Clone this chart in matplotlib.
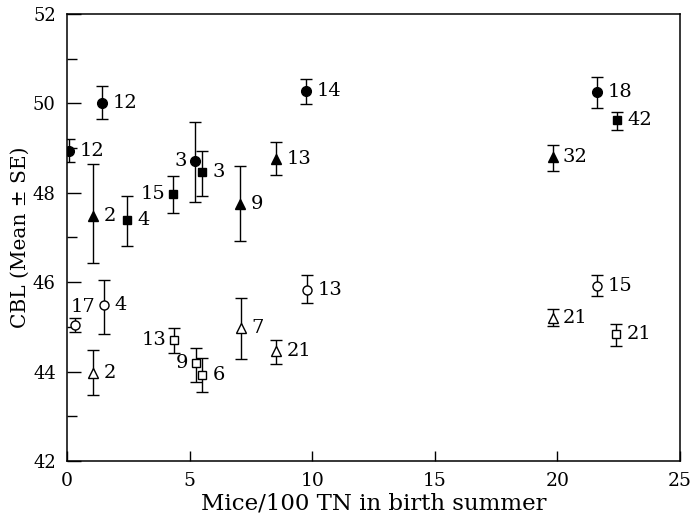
import numpy as np
import matplotlib.pyplot as plt

plt.rcParams['font.family'] = 'DejaVu Serif'

# filled circles
fc_x = [0.1, 1.42, 5.24, 9.74, 21.63]
fc_y = [48.93, 50.02, 48.72, 50.27, 50.25]
fc_lo = [48.68, 49.64, 47.80, 49.98, 49.90]
fc_hi = [49.20, 50.40, 49.58, 50.54, 50.60]
fc_n = ['12', '12', '3', '14', '18']

# filled squares
fs_x = [2.43, 4.34, 5.52, 22.44]
fs_y = [47.40, 47.97, 48.46, 49.62]
fs_lo = [46.82, 47.54, 47.92, 49.40]
fs_hi = [47.92, 48.37, 48.93, 49.80]
fs_n = ['4', '15', '3', '42']

# filled triangles
ft_x = [1.06, 7.06, 8.52, 19.8]
ft_y = [47.47, 47.76, 48.75, 48.79]
ft_lo = [46.42, 46.93, 48.39, 48.48]
ft_hi = [48.64, 48.61, 49.13, 49.08]
ft_n = ['2', '9', '13', '32']

# open circles
oc_x = [0.32, 1.5, 9.78, 21.63]
oc_y = [45.05, 45.50, 45.83, 45.92]
oc_lo = [44.89, 44.85, 45.54, 45.68]
oc_hi = [45.21, 46.04, 46.15, 46.15]
oc_n = ['17', '4', '13', '15']

# open squares
os_x = [4.38, 5.28, 5.52, 22.4]
os_y = [44.71, 44.20, 43.93, 44.85]
os_lo = [44.42, 43.76, 43.55, 44.58]
os_hi = [44.98, 44.53, 44.30, 45.07]
os_n = ['13', '9', '6', '21']

# open triangles
ot_x = [1.06, 7.1, 8.52, 19.8]
ot_y = [43.97, 44.98, 44.47, 45.20]
ot_lo = [43.48, 44.29, 44.17, 45.03]
ot_hi = [44.49, 45.65, 44.71, 45.41]
ot_n = ['2', '7', '21', '21']

# where each n label sits relative to its point (offset in points)
R = (7.5, 0, 'left')
L = (-6, 0, 'right')
label_pos = {
    'fc': [R, R, L, R, R],
    'fs': [R, L, R, R],
    'ft': [R, R, R, R],
    'oc': [(6, 13, 'center'), R, R, R],
    'os': [L, L, R, R],
    'ot': [R, R, R, R],
}

series = [
    ('fc', fc_x, fc_y, fc_lo, fc_hi, fc_n, 'o', 'black', 7.0),
    ('fs', fs_x, fs_y, fs_lo, fs_hi, fs_n, 's', 'black', 6.0),
    ('ft', ft_x, ft_y, ft_lo, ft_hi, ft_n, '^', 'black', 7.0),
    ('oc', oc_x, oc_y, oc_lo, oc_hi, oc_n, 'o', 'white', 6.5),
    ('os', os_x, os_y, os_lo, os_hi, os_n, 's', 'white', 6.0),
    ('ot', ot_x, ot_y, ot_lo, ot_hi, ot_n, '^', 'white', 7.0),
]

fig = plt.figure(figsize=(6.92, 5.19), dpi=100)
ax = fig.add_axes([0.0968, 0.1118, 0.8859, 0.8612])

for key, x, y, lo, hi, n, mk, fill, ms in series:
    y = np.array(y)
    yerr = [y - np.array(lo), np.array(hi) - y]
    ax.errorbar(x, y, yerr=yerr, fmt=mk, mfc=fill, mec='black', mew=1.0,
                ms=ms, ecolor='black', elinewidth=1.0, capsize=4.3,
                capthick=1.0, zorder=3)
    for xi, yi, lab, (dx, dy, ha) in zip(x, y, n, label_pos[key]):
        ax.annotate(lab, (xi, yi), xytext=(dx, dy), textcoords='offset points',
                    ha=ha, va='center', fontsize=14)

ax.set_xlim(0, 25)
ax.set_ylim(42, 52)
ax.set_xticks([0, 5, 10, 15, 20, 25])
ax.set_yticks([42, 44, 46, 48, 50, 52])
ax.set_yticks([43, 45, 47, 49, 51], minor=True)
ax.tick_params(axis='y', which='major', direction='in', length=10, width=1.0,
               labelsize=13, pad=8)
ax.tick_params(axis='y', which='minor', direction='in', length=7, width=1.0)
ax.tick_params(axis='x', direction='in', length=7, width=1.0, labelsize=13.5, pad=8)
for s in ax.spines.values():
    s.set_linewidth(1.1)

ax.set_xlabel('Mice/100 TN in birth summer', fontsize=16.5, labelpad=2)
ax.set_ylabel('CBL (Mean ± SE)', fontsize=14.5, labelpad=2)

plt.savefig('out.png', dpi=100)
